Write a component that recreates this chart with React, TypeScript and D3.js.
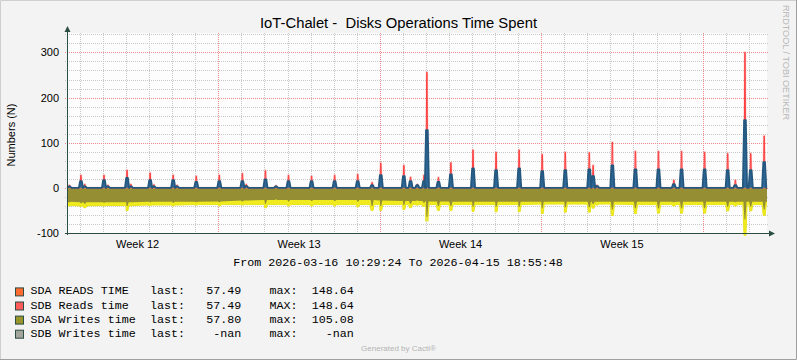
import React from 'react';
import * as d3 from 'd3';

const W = 797;
const H = 360;
const START = new Date('2026-03-16T10:29:24');
const END = new Date('2026-04-15T18:55:48');

// spike events (local time)
const spikeTimes = [
  '2026-03-16T13:00', '2026-03-17T01:00', '2026-03-17T05:00', '2026-03-18T01:00', '2026-03-18T05:00',
  '2026-03-19T01:00', '2026-03-19T05:00', '2026-03-20T01:00', '2026-03-20T05:00', '2026-03-21T01:00',
  '2026-03-21T05:00', '2026-03-22T01:00', '2026-03-23T01:00', '2026-03-24T01:00', '2026-03-24T05:00',
  '2026-03-25T01:00', '2026-03-25T12:00', '2026-03-26T01:00', '2026-03-27T01:00', '2026-03-28T01:00',
  '2026-03-29T01:00', '2026-03-29T16:00', '2026-03-30T01:00', '2026-03-31T01:00', '2026-03-31T08:00',
  '2026-03-31T15:00', '2026-03-31T22:00', '2026-04-01T01:00', '2026-04-01T13:00', '2026-04-02T02:00',
  '2026-04-03T01:00', '2026-04-04T01:00', '2026-04-05T01:00', '2026-04-06T01:00', '2026-04-07T01:00',
  '2026-04-08T02:00', '2026-04-08T06:00', '2026-04-08T10:00', '2026-04-09T02:00', '2026-04-10T02:00',
  '2026-04-11T02:00', '2026-04-11T18:00', '2026-04-12T02:00', '2026-04-13T02:00', '2026-04-14T02:00',
  '2026-04-14T10:00', '2026-04-14T20:00', '2026-04-15T02:00', '2026-04-15T16:00',
];
const readsAvg = [
  3, 15, 3, 17, 3, 22, 3, 17, 3, 17,
  3, 13, 15, 15, 4, 19, 3, 15, 15, 15,
  15, 6, 28, 26, 15, 6, 15, 128, 13, 30,
  43, 39, 43, 37, 39, 41, 26, 4, 50, 41,
  41, 8, 41, 41, 39, 6, 150, 39, 57,
];
const readsMax = [
  6, 28, 8, 28, 6, 39, 8, 33, 7, 28,
  6, 26, 28, 32, 8, 38, 5, 28, 26, 28,
  30, 12, 55, 50, 24, 8, 28, 256, 23, 56,
  84, 79, 84, 74, 79, 78, 50, 6, 101, 81,
  81, 17, 81, 79, 76, 17, 300, 76, 115,
];
const writesMaxDip = [
  -40, -41, -44, -40, -39, -50, -40, -39, -38, -40,
  -38, -38, -40, -38, -37, -44, -37, -40, -40, -40,
  -42, -50, -50, -48, -44, -38, -42, -74, -50, -50,
  -52, -53, -53, -57, -54, -54, -45, -38, -61, -57,
  -56, -40, -56, -56, -51, -40, -105, -51, -61,
];
const writesAvgDip = [
  -32, -34, -35, -33, -32, -40, -32, -32, -31, -33,
  -31, -32, -32, -30, -28, -35, -26, -30, -29, -29,
  -31, -40, -40, -38, -35, -28, -33, -64, -40, -40,
  -42, -42, -42, -45, -43, -43, -36, -31, -48, -45,
  -45, -32, -45, -45, -42, -32, -70, -42, -48,
];

// daily base level of the write series, Mar 16 .. Apr 15
const writesAvgDaily = [
  -31, -32, -32, -32, -31, -31, -31, -30, -28, -27, -27, -27, -27, -27, -28, -29,
  -30, -31, -31, -31, -31, -31, -31, -31, -31, -31, -31, -31, -31, -31, -31,
];
const writesMaxDaily = [
  -39, -40, -39, -39, -38, -38, -37, -37, -37, -37, -37, -37, -37, -37, -37, -37,
  -37, -37, -37, -37, -37, -36, -36, -36, -36, -37, -37, -37, -37, -37, -37,
];

const legendNames = ['SDA READS TIME', 'SDB Reads time', 'SDA Writes time', 'SDB Writes time'];
const legendLast = ['57.49', '57.49', '57.80', '-nan'];
const legendMaxLabel = ['max:', 'MAX:', 'max:', 'max:'];
const legendMax = ['148.64', '148.64', '105.08', '-nan'];
const legendColors = ['#FF6A2E', '#FF5B5B', '#97952B', '#A3A69C'];

const yTicks = [-100, 0, 100, 200, 300];

const X0 = 67;
const X1 = 767;
const Y0 = 233;
const Y1 = 33;
const HOUR = 3600 * 1000;

type Pt = { t: Date; v: number };

const App = () => {
  const x = d3.scaleTime().domain([START, END]).range([X0, X1]);
  const y = d3.scaleLinear().domain([-100, 343]).range([Y0, Y1]);

  const events = spikeTimes.map((s, i) => ({
    t: new Date(s),
    avg: readsAvg[i],
    max: readsMax[i],
    wMax: writesMaxDip[i],
    wAvg: writesAvgDip[i],
  }));

  // reads: zero baseline with narrow spikes
  const spikeSeries = (key: 'avg' | 'max', half: number, top: number): Pt[] => {
    const pts: Pt[] = [{ t: START, v: 0 }];
    events.forEach((e) => {
      const ms = e.t.getTime();
      pts.push({ t: new Date(ms - half * HOUR), v: 0 });
      pts.push({ t: new Date(ms - top * HOUR), v: e[key] });
      pts.push({ t: new Date(ms + top * HOUR), v: e[key] });
      pts.push({ t: new Date(ms + half * HOUR), v: 0 });
    });
    pts.push({ t: END, v: 0 });
    return pts;
  };

  const dayStart = d3.timeDay.floor(START);
  const dayIndex = (t: Date) => d3.timeDay.count(dayStart, t);

  const writeSeries = (daily: number[], key: 'wMax' | 'wAvg', half: number, top: number): Pt[] => {
    const pts: Pt[] = [];
    d3.timeDay.range(dayStart, d3.timeDay.offset(d3.timeDay.floor(END), 1)).forEach((d, i) => {
      const a = d < START ? START : d;
      const b0 = d3.timeDay.offset(d, 1);
      const b = b0 > END ? END : new Date(b0.getTime() - 1);
      pts.push({ t: a, v: daily[i] });
      pts.push({ t: b, v: daily[i] });
    });
    events.forEach((e) => {
      const ms = e.t.getTime();
      const base = daily[dayIndex(e.t)];
      pts.push({ t: new Date(ms - half * HOUR), v: base });
      pts.push({ t: new Date(ms - top * HOUR), v: e[key] });
      pts.push({ t: new Date(ms + top * HOUR), v: e[key] });
      pts.push({ t: new Date(ms + half * HOUR), v: base });
    });
    return pts
      .filter((p) => p.t >= START && p.t <= END)
      .sort((p, q) => p.t.getTime() - q.t.getTime());
  };

  const area = d3
    .area<Pt>()
    .x((d) => x(d.t))
    .y0(y(0))
    .y1((d) => y(d.v));
  const line = d3
    .line<Pt>()
    .x((d) => x(d.t))
    .y((d) => y(d.v));

  const yellowPts = writeSeries(writesMaxDaily, 'wMax', 2.2, 1.0);
  const olivePts = writeSeries(writesAvgDaily, 'wAvg', 1.6, 0.5);
  const redPts = spikeSeries('max', 0.9, 0.2);
  const bluePts = spikeSeries('avg', 2.2, 0.9);

  const days = d3.timeDay.range(d3.timeDay.ceil(START), END);
  const weeks = d3.timeMonday.range(d3.timeMonday.ceil(START), END);
  const weekLabels = d3.timeMonday
    .range(d3.timeMonday.floor(START), END)
    .map((m) => ({ t: new Date(m.getTime() + 3.5 * 24 * HOUR), label: d3.timeFormat('Week %V')(m) }))
    .filter((w) => w.t >= START && w.t <= END);
  const minorY = d3.range(-100, 341, 20).filter((v) => v % 100 !== 0);

  const sans = "'Liberation Sans', Arial, sans-serif";
  const mono = "'Liberation Mono', 'Courier New', monospace";
  const cw = 7.03;
  const lx = 30.5;

  return (
    <svg width={W} height={H} style={{ display: 'block', position: 'absolute', left: 0, top: 0 }}>
      <rect x={0} y={0} width={W} height={H} fill="#F3F3F3" />
      <path d={`M0.5,${H} V0.5 H${W}`} stroke="#CFCFCF" strokeWidth={1} fill="none" />
      <path d={`M${W - 0.5},0 V${H - 0.5} H0`} stroke="#9E9E9E" strokeWidth={1} fill="none" />
      <rect x={X0} y={Y1} width={X1 - X0} height={Y0 - Y1} fill="#FDFDFD" />

      {/* grid */}
      <g strokeWidth={1} strokeDasharray="1 1" shapeRendering="crispEdges">
        {minorY.map((v) => (
          <line key={'my' + v} x1={X0 - 2} x2={X1 + 2} y1={Math.round(y(v)) + 0.5} y2={Math.round(y(v)) + 0.5} stroke="#C8C8C8" />
        ))}
        {days.map((d) => (
          <line key={'dx' + d.getTime()} x1={Math.round(x(d)) + 0.5} x2={Math.round(x(d)) + 0.5} y1={Y1} y2={Y0 + 2} stroke="#C8C8C8" />
        ))}
        {yTicks.map((v) => (
          <line key={'My' + v} x1={X0 - 2} x2={X1 + 2} y1={Math.round(y(v)) + 0.5} y2={Math.round(y(v)) + 0.5} stroke="#EE8C8C" />
        ))}
        {weeks.map((d) => (
          <line key={'wx' + d.getTime()} x1={Math.round(x(d)) + 0.5} x2={Math.round(x(d)) + 0.5} y1={Y1} y2={Y0 + 2} stroke="#EE8C8C" />
        ))}
      </g>

      {/* data */}
      <path d={area(yellowPts) ?? ''} fill="#EFEB1F" />
      <path d={line(yellowPts) ?? ''} fill="none" stroke="#E8E41A" strokeWidth={1} />
      <path d={area(olivePts) ?? ''} fill="#958E33" />
      <path d={line(redPts) ?? ''} fill="none" stroke="#FF8080" strokeOpacity={0.3} strokeWidth={2.2} />
      <path d={line(redPts) ?? ''} fill="none" stroke="#FF4040" strokeWidth={1} />
      <path d={area(bluePts) ?? ''} fill="#2F6898" />
      <path d={line(bluePts) ?? ''} fill="none" stroke="#24587F" strokeWidth={1.8} strokeLinejoin="round" />

      {/* axes */}
      <g stroke="#2C4D43" strokeWidth={1} shapeRendering="crispEdges">
        <line x1={X0 - 2} x2={X1 + 3} y1={Y0 + 0.5} y2={Y0 + 0.5} />
        <line x1={X0 + 0.5} x2={X0 + 0.5} y1={Y0 + 2} y2={Y1 - 3} />
      </g>
      <path d={`M${X1 + 2},${Y0 - 2.5} L${X1 + 8},${Y0 + 0.5} L${X1 + 2},${Y0 + 3.5} Z`} fill="#2C4D43" />
      <path d={`M${X0 - 2.5},${Y1 - 1} L${X0 + 0.5},${Y1 - 7} L${X0 + 3.5},${Y1 - 1} Z`} fill="#2C4D43" />

      {/* labels */}
      <text x={398.5} y={28} textAnchor="middle" fontFamily={sans} fontSize={14.7} fill="#000" textLength={277} lengthAdjust="spacingAndGlyphs" style={{ whiteSpace: 'pre' }}>
        IoT-Chalet -  Disks Operations Time Spent
      </text>
      <text transform="translate(783,5) rotate(90)" fontFamily={sans} fontSize={8.5} fill="#B8B8B8" textLength={115} lengthAdjust="spacingAndGlyphs">
        RRDTOOL / TOBI OETIKER
      </text>
      <text transform="translate(15,135) rotate(-90)" textAnchor="middle" fontFamily={sans} fontSize={11} fill="#000">
        Numbers (N)
      </text>
      {yTicks.map((v) => (
        <text key={'yl' + v} x={59} y={y(v) + 4} textAnchor="end" fontFamily={sans} fontSize={11} fill="#000">
          {v}
        </text>
      ))}
      {weekLabels.map((w) => (
        <text key={w.label} x={x(w.t)} y={248} textAnchor="middle" fontFamily={sans} fontSize={11} fill="#000">
          {w.label}
        </text>
      ))}
      <text x={398} y={266} textAnchor="middle" fontFamily={mono} fontSize={11.7} fill="#000" style={{ whiteSpace: 'pre' }}>
        {`From ${d3.timeFormat('%Y-%m-%d %H:%M:%S')(START)} To ${d3.timeFormat('%Y-%m-%d %H:%M:%S')(END)}`}
      </text>

      {/* legend */}
      {legendNames.map((name, i) => {
        const by = 294.4 + i * 14.1;
        return (
          <g key={name} fontFamily={mono} fontSize={11.7} fill="#000">
            <rect x={15.5} y={by - 6.5} width={8} height={8} fill={legendColors[i]} stroke="#2C4D43" strokeWidth={1} />
            <text x={lx} y={by}>{name}</text>
            <text x={lx + 17 * cw} y={by}>last:</text>
            <text x={lx + 30 * cw} y={by} textAnchor="end">{legendLast[i]}</text>
            <text x={lx + 34 * cw} y={by}>{legendMaxLabel[i]}</text>
            <text x={lx + 46 * cw} y={by} textAnchor="end">{legendMax[i]}</text>
          </g>
        );
      })}
      <text x={398.5} y={351} textAnchor="middle" fontFamily={sans} fontSize={8} fill="#B4B4B4">
        Generated by Cacti®
      </text>
    </svg>
  );
};

export default App;
